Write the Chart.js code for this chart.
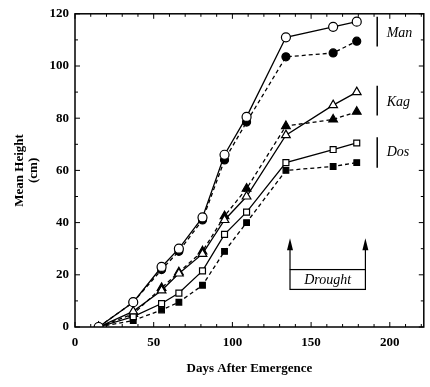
<!DOCTYPE html>
<html><head><meta charset="utf-8">
<script src="https://cdn.jsdelivr.net/npm/chart.js@4/dist/chart.umd.min.js"></script>
<style>html,body{margin:0;padding:0;background:#fff}#wrap{width:430px;height:387px}</style>
</head><body><div id="wrap"><canvas id="c" width="430" height="387"></canvas></div>
<script>
const days = [15, 37, 55, 66, 81, 95, 109, 134, 164, 179];
const manOpen   = [0, 9.5, 23, 30, 42, 66, 80.5, 111, 115, 117];
const manFilled = [0, 9.5, 22, 29, 41, 64, 78.5, 103.5, 105, 109.5];
const kagOpen   = [0, 6, 14, 20.5, 28, 41, 50, 73.5, 85, 90];
const kagFilled = [0, 5, 15, 21, 29, 42.5, 53, 77, 79.5, 82.5];
const dosOpen   = [0, 4, 9, 13, 21.5, 35.5, 44, 63, 68, 70.5];
const dosFilled = [0, 2.5, 6.5, 9.5, 16, 29, 40, 60, 61.5, 63];
const xTicks = [0, 50, 100, 150, 200];
const yTicks = [0, 20, 40, 60, 80, 100, 120];
const groupLabels = ['Man', 'Kag', 'Dos'];
const droughtLabel = 'Drought';

const pts = arr => arr.map((v, i) => ({x: days[i], y: v}));
function ds(arr, shape, filled, r) {
  return {
    data: pts(arr), borderColor: '#000', borderWidth: 1.3,
    borderDash: filled ? [4, 3] : [],
    pointStyle: shape, pointRadius: r, pointHoverRadius: r,
    pointBackgroundColor: filled ? '#000' : '#fff', pointBorderColor: '#000',
    pointBorderWidth: 1.2, fill: false, tension: 0
  };
}
const serif = '"Liberation Serif", "DejaVu Serif", serif';

const deco = {
  id: 'deco',
  afterDatasetsDraw(chart) {
    const {ctx, chartArea: a, scales: {x, y}} = chart;
    ctx.save();
    ctx.strokeStyle = '#000'; ctx.fillStyle = '#000'; ctx.lineWidth = 1.5;
    ctx.strokeRect(a.left, a.top, a.right - a.left, a.bottom - a.top);
    ctx.lineWidth = 1;
    for (let v = 0; v <= 120; v += 10) {
      const py = y.getPixelForValue(v), L = v % 20 === 0 ? 5 : 3;
      ctx.beginPath(); ctx.moveTo(a.left, py); ctx.lineTo(a.left + L, py);
      ctx.moveTo(a.right, py); ctx.lineTo(a.right - L, py); ctx.stroke();
    }
    for (let v = 0; v <= 220; v += 10) {
      const px = x.getPixelForValue(v), L = v % 50 === 0 ? 5 : 3;
      if (px > a.right) continue;
      ctx.beginPath(); ctx.moveTo(px, a.bottom); ctx.lineTo(px, a.bottom - L);
      ctx.moveTo(px, a.top); ctx.lineTo(px, a.top + L); ctx.stroke();
    }
    const br = [[118.9, 107.5, 112.5], [92.4, 81, 86], [72.7, 61, 67]];
    ctx.lineWidth = 1.5;
    ctx.font = 'italic 14px ' + serif; ctx.textBaseline = 'middle'; ctx.textAlign = 'left';
    br.forEach((b, i) => {
      const bx = x.getPixelForValue(192);
      ctx.beginPath(); ctx.moveTo(bx, y.getPixelForValue(b[0])); ctx.lineTo(bx, y.getPixelForValue(b[1])); ctx.stroke();
      ctx.fillText(groupLabels[i], x.getPixelForValue(198), y.getPixelForValue(b[2]));
    });
    const x1 = x.getPixelForValue(136.6), x2 = x.getPixelForValue(184.5);
    const yTip = y.getPixelForValue(34), yBase = y.getPixelForValue(22), yBot = y.getPixelForValue(14.4);
    ctx.lineWidth = 1.2;
    ctx.strokeRect(x1, yBase, x2 - x1, yBot - yBase);
    [x1, x2].forEach(px => {
      ctx.beginPath(); ctx.moveTo(px, yBase); ctx.lineTo(px, yTip + 8); ctx.stroke();
      ctx.beginPath(); ctx.moveTo(px, yTip); ctx.lineTo(px - 3, yTip + 12); ctx.lineTo(px + 3, yTip + 12); ctx.closePath(); ctx.fill();
    });
    ctx.font = 'italic 14px ' + serif; ctx.textAlign = 'center';
    ctx.fillText(droughtLabel, (x1 + x2) / 2, (yBase + yBot) / 2 + 1);
    ctx.restore();
  }
};

new Chart(document.getElementById('c'), {
  type: 'line',
  data: { datasets: [
    ds(manOpen, 'circle', false, 4.5), ds(kagOpen, 'triangle', false, 5), ds(dosOpen, 'rect', false, 4.2),
    ds(manFilled, 'circle', true, 4), ds(kagFilled, 'triangle', true, 5), ds(dosFilled, 'rect', true, 4)
  ]},
  options: {
    responsive: false, animation: false, devicePixelRatio: 1,
    layout: { padding: { left: 8, top: 10, right: 3, bottom: 7 } },
    plugins: { legend: { display: false }, tooltip: { enabled: false } },
    scales: {
      x: {
        type: 'linear', min: 0, max: 221.6,
        afterBuildTicks: s => { s.ticks = xTicks.map(v => ({value: v})); },
        afterFit: s => { s.height = 53; },
        grid: { display: false, drawTicks: false },
        border: { display: false },
        ticks: { color: '#000', font: { family: serif, weight: 'bold', size: 13 }, padding: 8, maxRotation: 0 },
        title: { display: true, text: 'Days After Emergence', color: '#000', font: { family: serif, weight: 'bold', size: 13 }, padding: { top: 3 } }
      },
      y: {
        type: 'linear', min: 0, max: 120,
        afterBuildTicks: s => { s.ticks = yTicks.map(v => ({value: v})); },
        afterFit: s => { s.width = 67; },
        grid: { display: false, drawTicks: false },
        border: { display: false },
        ticks: { color: '#000', font: { family: serif, weight: 'bold', size: 13 }, padding: 6 },
        title: { display: true, text: ['Mean Height', '(cm)'], color: '#000', font: { family: serif, weight: 'bold', size: 13, lineHeight: 1.1 }, padding: { bottom: 8 } }
      }
    }
  },
  plugins: [deco]
});
</script></body></html>
